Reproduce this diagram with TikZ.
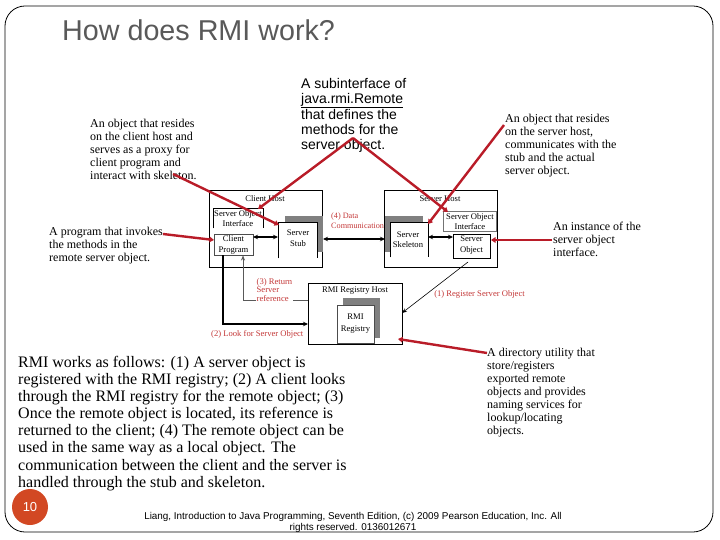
\documentclass[tikz,border=0pt]{standalone}
\usepackage{fontspec}
\setmainfont{Liberation Serif}
\setsansfont{Liberation Sans}
\usetikzlibrary{arrows.meta}
\definecolor{annred}{RGB}{185,28,40}
\definecolor{labred}{RGB}{195,55,55}
\definecolor{shgray}{RGB}{128,128,128}
\definecolor{titlegray}{RGB}{89,89,89}
\definecolor{pgorange}{RGB}{210,72,35}
\newcommand\annf{\fontsize{12}{13}\selectfont}
\newcommand\dgf{\fontsize{8.6}{10}\selectfont}
\begin{document}
\begin{tikzpicture}[x=1pt,y=-1pt,
 box/.style={draw, line width=0.6pt, fill=white, inner sep=0, anchor=north west},
 openbox/.style={draw=none, fill=white, inner sep=0, anchor=north west},
 shadowbox/.style={fill=shgray, draw=none, inner sep=0, anchor=north west},
 dtext/.style={font=\dgf, align=center, inner sep=0},
 rlab/.style={font=\dgf, text=labred, inner sep=0, align=left},
 annot/.style={font=\annf, align=left, inner sep=0, anchor=north west},
 redarrow/.style={draw=annred, line width=2.4pt, -{Triangle[length=4.5pt,width=5.5pt]}},
 dblarrow/.style={line width=1.1pt, {Stealth[length=5pt,width=4.5pt]}-{Stealth[length=5pt,width=4.5pt]}},
 edge06/.style={line width=0.6pt}
]
\useasboundingbox (0,0) rectangle (720,540);
% slide frame
\draw[line width=0.8pt, rounded corners=20pt] (5,6) rectangle (713,532);
% title
\node[font=\sffamily\fontsize{28.7}{30}\selectfont, text=titlegray, anchor=base west, inner sep=0] (title) at (62,41) {How does RMI work?};

% ---------- Client host ----------
\node[box, minimum width=113pt, minimum height=77pt] (chost) at (209,190) {};
\node[dtext] (chostt) at (265,199) {Client Host};
\node[openbox, minimum width=50pt, minimum height=20pt] (csoi) at (213,208) {};
\draw[edge06] (csoi.south west) -- (csoi.north west) -- (csoi.north east) -- (csoi.south east);
\node[dtext, font=\fontsize{8.6}{9.5}\selectfont] (csoit) at (238,218.5) {Server Object\\Interface};
\node[box, draw=black!70, minimum width=39pt, minimum height=21pt] (cprog) at (214,234) {};
\node[dtext, font=\fontsize{8.6}{11}\selectfont] (cprogt) at (233.5,244.5) {Client\\Program};
\node[shadowbox, minimum width=38pt, minimum height=36pt] (stubsh) at (285,216) {};
\node[openbox, minimum width=39pt, minimum height=36pt] (stub) at (278,222) {};
\draw[edge06] (stub.south west) -- (stub.north west) -- (stub.north east) -- (stub.south east);
\node[dtext, font=\fontsize{8.6}{11}\selectfont] (stubt) at (298,238.5) {Server\\Stub};

% ---------- Server host ----------
\node[box, minimum width=113pt, minimum height=77pt] (shost) at (384,190) {};
\node[dtext] (shostt) at (440,199) {Server Host};
\node[shadowbox, minimum width=38pt, minimum height=36pt] (skelsh) at (385,216) {};
\node[openbox, minimum width=38pt, minimum height=35pt] (skel) at (390,222) {};
\draw[edge06] (skel.south west) -- (skel.north west) -- (skel.north east) -- (skel.south east);
\node[dtext, font=\fontsize{8.6}{10}\selectfont] (skelt) at (408,240) {Server\\Skeleton};
\node[box, draw=black!55, minimum width=53pt, minimum height=20pt] (ssoi) at (443,211) {};
\node[dtext, font=\fontsize{8.6}{9.5}\selectfont] (ssoit) at (470,221.5) {Server Object\\Interface};
\node[box, minimum width=37pt, minimum height=24pt] (sobj) at (453,234) {};
\node[dtext, font=\fontsize{8.6}{11}\selectfont] (sobjt) at (471.5,245.5) {Server\\Object};

% ---------- RMI registry host ----------
\node[box, minimum width=94pt, minimum height=61pt] (rhost) at (308,283) {};
\node[dtext] (rhostt) at (355,291) {RMI Registry Host};
\node[shadowbox, minimum width=37pt, minimum height=40pt] (regsh) at (343,298) {};
\node[box, draw=black!70, minimum width=37pt, minimum height=38pt] (reg) at (337,305) {};
\node[dtext, font=\fontsize{8.6}{12}\selectfont] (regt) at (355.5,324) {RMI\\Registry};

% ---------- black connectors ----------
\coordinate (cp1) at (253,237);
\coordinate (st1) at (278,237);
\draw[dblarrow] (cp1) -- (st1);
\coordinate (d1) at (323,239);
\coordinate (d2) at (385,239);
\draw[dblarrow] (d1) -- (d2);
\coordinate (sk1) at (428,237);
\coordinate (so1) at (453,237);
\draw[dblarrow] (sk1) -- (so1);
\coordinate (r1a) at (468,262);
\coordinate (r1b) at (402,313);
\draw[line width=0.6pt, -{Stealth[length=5pt,width=4pt]}] (r1a) -- (r1b);
\coordinate (l2a) at (223,255);
\coordinate (l2b) at (308,324);
\draw[line width=1.6pt, -{Stealth[length=5pt,width=4.5pt]}] (l2a) |- (l2b);
\coordinate (l3a) at (308,300);
\coordinate (l3b) at (243,255.5);
\draw[line width=0.6pt, black!65, -{Stealth[length=5pt,width=4pt]}] (l3a) -| (l3b);

% ---------- red labels in diagram ----------
\node[rlab, anchor=west, font=\fontsize{8.2}{9.5}\selectfont] (lab4) at (331,220.5) {(4) Data\\Communication};
\node[rlab, anchor=center] (lab1) at (479.5,294) {(1) Register Server Object};
\node[rlab, anchor=west] (lab2) at (211,334) {(2) Look for Server Object};
\node[rlab, anchor=west, font=\fontsize{8.6}{8.2}\selectfont, fill=white, inner sep=0.5pt] (lab3) at (256,290) {(3) Return\\Server\\reference};

% ---------- annotations ----------
\node[annot] (aproxy) at (90,119) {An object that resides\\on the client host and\\serves as a proxy for\\client program and\\interact with skeleton.};
\node[annot, font=\sffamily\fontsize{14}{15}\selectfont] (asub) at (301,78) {A subinterface of\\\underline{java.rmi.Remote}\\that defines the\\methods for the\\server object.};
\node[annot] (askel) at (505,114) {An object that resides\\on the server host,\\communicates with the\\stub and the actual\\server object.};
\node[annot] (ainst) at (553,222) {An instance of the\\server object\\interface.};
\node[annot] (aprog) at (49,227) {A program that invokes\\the methods in the\\remote server object.};
\node[annot] (adir) at (487,348) {A directory utility that\\store/registers\\exported remote\\objects and provides\\naming services for\\lookup/locating\\objects.};

% ---------- red annotation arrows ----------
\coordinate (p1) at (173,174);  \coordinate (q1) at (279,225);
\coordinate (p2) at (353,138);  \coordinate (q2) at (258,209);
\coordinate (q3) at (448,212);
\coordinate (p4) at (504,125);  \coordinate (q4) at (428,224);
\coordinate (p5) at (552,240);  \coordinate (q5) at (491,240);
\coordinate (p6) at (163,234);  \coordinate (q6) at (214,240);
\coordinate (p7) at (487,353);  \coordinate (q7) at (398,339);
\draw[redarrow] (p1) -- (q1);
\draw[redarrow] (p2) -- (q2);
\draw[redarrow] (p2) -- (q3);
\draw[redarrow] (p4) -- (q4);
\draw[redarrow] (p5) -- (q5);
\draw[redarrow] (p6) -- (q6);
\draw[redarrow] (p7) -- (q7);

% ---------- paragraph ----------
\node[annot, font=\fontsize{16}{17.1}\selectfont] (para) at (18,356) {RMI works as follows: (1) A server object is\\registered with the RMI registry; (2) A client looks\\through the RMI registry for the remote object; (3)\\Once the remote object is located, its reference is\\returned to the client; (4) The remote object can be\\used in the same way as a local object. The\\communication between the client and the server is\\handled through the stub and skeleton.};

% ---------- page number and footer ----------
\node[circle, fill=pgorange, minimum size=36pt, inner sep=0, text=white, font=\sffamily\fontsize{13}{13}\selectfont] (pg) at (30,507) {10};
\node[font=\sffamily\fontsize{9.9}{11}\selectfont, align=center, inner sep=0] (foot) at (353,522) {Liang, Introduction to Java Programming, Seventh Edition, (c) 2009 Pearson Education, Inc. All\\rights reserved. 0136012671};
\end{tikzpicture}
\end{document}
